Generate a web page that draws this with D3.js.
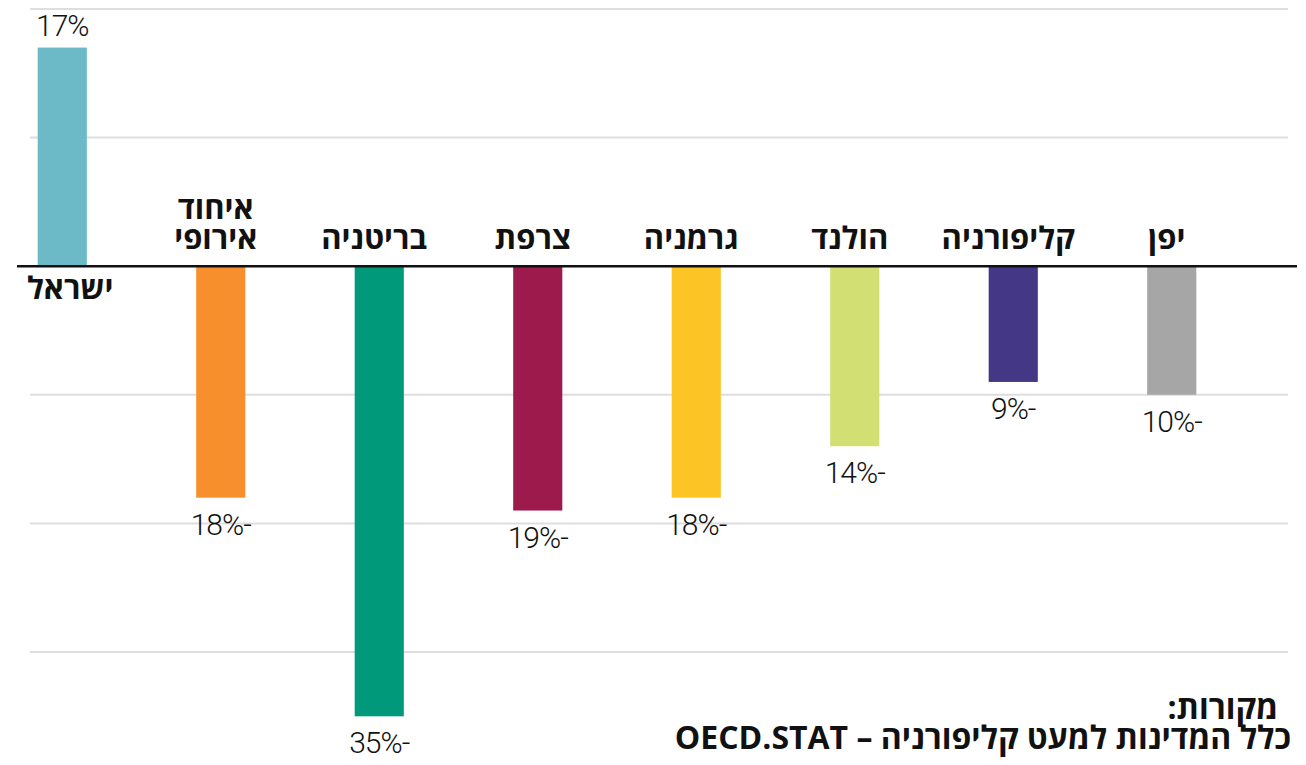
<!DOCTYPE html>
<html lang="he">
<head>
<meta charset="utf-8">
<title>שינוי באחוזים</title>
<script src="https://d3js.org/d3.v7.min.js"></script>
<style>
  body { margin: 0; background: #fff; }
  svg { display: block; }
</style>
</head>
<body>
<script>
// data
var places = ["ישראל", "איחוד אירופי", "בריטניה", "צרפת", "גרמניה", "הולנד", "קליפורניה", "יפן"];
var labelLines = [["ישראל"], ["איחוד", "אירופי"], ["בריטניה"], ["צרפת"], ["גרמניה"], ["הולנד"], ["קליפורניה"], ["יפן"]];
var changes = [17, -18, -35, -19, -18, -14, -9, -10];
var colors = ["#6cb9c8", "#f7902c", "#00997a", "#9d1a4d", "#fdc426", "#d2df72", "#443786", "#a6a6a6"];
var gridTicks = [20, 10, -10, -20, -30];
var sourceLines = ["מקורות:", "כלל המדינות למעט קליפורניה – OECD.STAT"];

var width = 1306, height = 765;

var svg = d3.select("body").append("svg")
    .attr("width", width)
    .attr("height", height);

var y = d3.scaleLinear()
    .domain([-30, 20])
    .range([652, 9]);

var x = d3.scaleBand()
    .domain(places)
    .range([-17, 1251])
    .paddingInner(0.69)
    .paddingOuter(0.345);

var hebFont = "'Open Sans', 'DejaVu Sans', sans-serif";
var numFont = "Roboto, 'Open Sans', sans-serif";

// light gridlines
svg.selectAll(".grid")
    .data(gridTicks)
    .enter().append("line")
    .attr("class", "grid")
    .attr("x1", 30).attr("x2", 1288)
    .attr("y1", function(d) { return y(d); })
    .attr("y2", function(d) { return y(d); })
    .attr("stroke", "#dedede")
    .attr("stroke-width", 2);

// bars
svg.selectAll(".bar")
    .data(changes)
    .enter().append("rect")
    .attr("class", "bar")
    .attr("x", function(d, i) { return x(places[i]); })
    .attr("width", x.bandwidth())
    .attr("y", function(d) { return y(Math.max(0, d)); })
    .attr("height", function(d) { return Math.abs(y(d) - y(0)); })
    .attr("fill", function(d, i) { return colors[i]; });

// zero line
svg.append("line")
    .attr("x1", 17).attr("x2", 1297)
    .attr("y1", y(0)).attr("y2", y(0))
    .attr("stroke", "#111")
    .attr("stroke-width", 2.5);

// value labels
svg.selectAll(".val")
    .data(changes)
    .enter().append("text")
    .attr("class", "val")
    .attr("x", function(d, i) { return x(places[i]) + x.bandwidth() / 2; })
    .attr("y", function(d) { return d > 0 ? y(d) - 12 : y(d) + 37; })
    .attr("text-anchor", "middle")
    .attr("font-family", numFont)
    .attr("font-weight", 300)
    .attr("font-size", 30)
    .attr("letter-spacing", -1)
    .attr("fill", "#111")
    .text(function(d) { return d > 0 ? d + "%" : Math.abs(d) + "%-"; });

// category labels: above the zero line for negatives, below it for positives
var cat = svg.selectAll(".cat")
    .data(changes)
    .enter().append("text")
    .attr("class", "cat")
    .attr("text-anchor", "middle")
    .attr("font-family", hebFont)
    .attr("font-weight", 700)
    .attr("font-size", 31)
    .attr("fill", "#111")
    .attr("transform", function(d, i) {
        var cx = x(places[i]) + x.bandwidth() / 2 + (d > 0 ? 8 : -5);
        var n = labelLines[i].length;
        var by = d > 0 ? y(0) + 33 : y(0) - 17 - (n - 1) * 30;
        return "translate(" + cx + "," + by + ")";
    });

cat.selectAll("tspan")
    .data(function(d, i) { return labelLines[i]; })
    .enter().append("tspan")
    .attr("x", 0)
    .attr("dy", function(d, j) { return j === 0 ? 0 : 30; })
    .text(function(d) { return d; });

// sources
svg.selectAll(".src")
    .data(sourceLines)
    .enter().append("text")
    .attr("class", "src")
    .attr("x", function(d, i) { return i === 0 ? 1278 : 1291; })
    .attr("y", function(d, i) { return 719 + i * 30; })
    .attr("direction", "rtl")
    .style("direction", "rtl")
    .attr("text-anchor", "start")
    .attr("font-family", hebFont)
    .attr("font-weight", 700)
    .attr("font-size", 32)
    .attr("fill", "#111")
    .text(function(d) { return d; });
</script>
</body>
</html>
